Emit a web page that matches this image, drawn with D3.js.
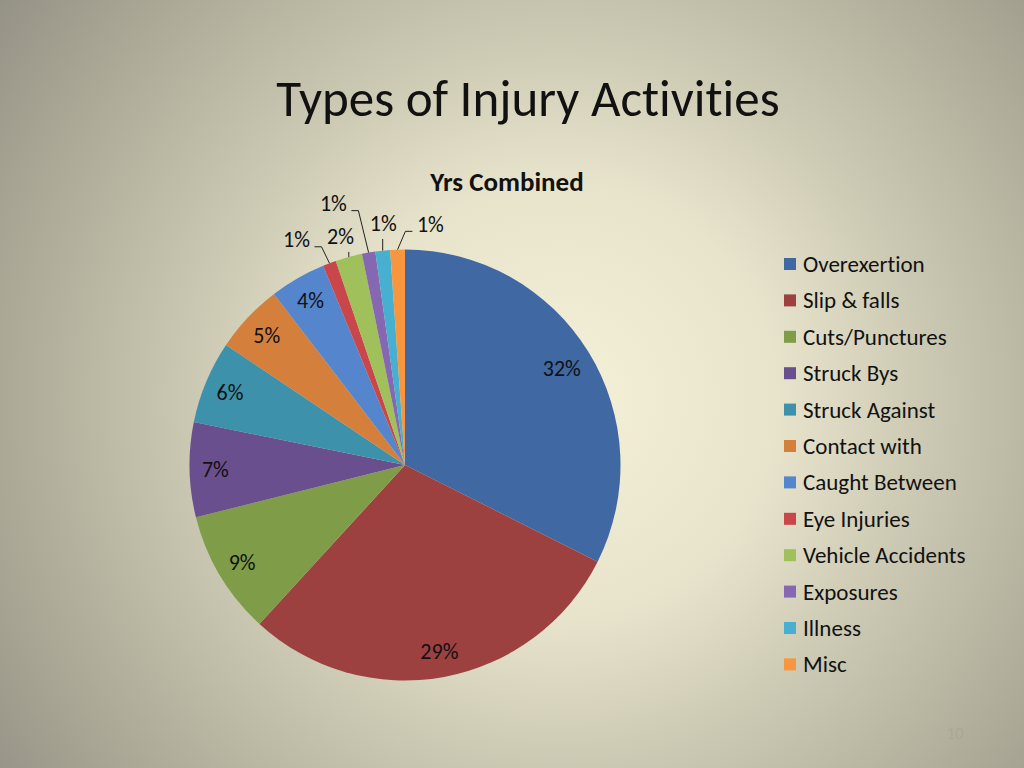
<!DOCTYPE html>
<html>
<head>
<meta charset="utf-8">
<script src="https://cdn.jsdelivr.net/npm/d3@7"></script>
<style>
  html, body { margin: 0; padding: 0; overflow: hidden; }
  svg { display: block; font-family: Carlito, Lato, "Open Sans", sans-serif; font-variant-ligatures: none; }
</style>
</head>
<body>
<div id="chart"></div>
<script>
// Data (percent of all injuries, years combined)
const categories = ["Overexertion", "Slip & falls", "Cuts/Punctures", "Struck Bys",
  "Struck Against", "Contact with", "Caught Between", "Eye Injuries",
  "Vehicle Accidents", "Exposures", "Illness", "Misc"];
const shares = [32.4, 29.4, 9.3, 7.1, 6.2, 5.2, 4.2, 1.0, 2.0, 1.0, 1.1, 1.1];
const colors = ["#4068a2", "#9d4140", "#7f9c48", "#6a4f8e", "#3d91aa", "#d57f3c",
  "#5585cc", "#c9474b", "#9fc05a", "#8667b2", "#47b0d0", "#f7963f"];

const W = 1024, H = 768;
const cx = 405, cy = 465, R = 215.5;

const svg = d3.select("#chart").append("svg")
  .attr("width", W).attr("height", H);

// slide background: light centre fading to grey edges
const defs = svg.append("defs");
const grad = defs.append("radialGradient").attr("id", "bg")
  .attr("gradientUnits", "userSpaceOnUse")
  .attr("cx", 560).attr("cy", 400).attr("r", 720);
grad.append("stop").attr("offset", "0%").attr("stop-color", "#f5f0d8");
grad.append("stop").attr("offset", "30%").attr("stop-color", "#e8e4cc");
grad.append("stop").attr("offset", "55%").attr("stop-color", "#c6c3ae");
grad.append("stop").attr("offset", "78%").attr("stop-color", "#aba896");
grad.append("stop").attr("offset", "100%").attr("stop-color", "#8f8d82");
svg.append("rect").attr("width", W).attr("height", H).attr("fill", "url(#bg)");

// Title
svg.append("text")
  .attr("x", 528).attr("y", 116)
  .attr("text-anchor", "middle")
  .style("font-size", "51px")
  .attr("fill", "#111")
  .text("Types of Injury Activities");

// Chart title
svg.append("text")
  .attr("x", 507).attr("y", 191)
  .attr("text-anchor", "middle")
  .style("font-size", "27px")
  .style("font-weight", "bold")
  .attr("fill", "#111")
  .text("Yrs Combined");

const data = categories.map((c, i) => ({name: c, value: shares[i], color: colors[i]}));
const total = d3.sum(shares);

const pie = d3.pie().sort(null).value(d => d.value);
const arcs = pie(data);
const arc = d3.arc().innerRadius(0).outerRadius(R);

const g = svg.append("g").attr("transform", `translate(${cx},${cy})`);

g.selectAll("path.slice")
  .data(arcs)
  .enter().append("path")
  .attr("class", "slice")
  .attr("d", arc)
  .attr("fill", d => d.data.color);

const pct = d => Math.round(d.value / total * 100) + "%";
const mid = d => (d.startAngle + d.endAngle) / 2;

// big slices: label inside (largest slice sits a bit further in)
const inner = d3.arc().innerRadius(R * 0.88).outerRadius(R * 0.88);
const innerBig = d3.arc().innerRadius(R * 0.855).outerRadius(R * 0.855);
const big = arcs.filter(d => d.value >= 3);
g.selectAll("text.in")
  .data(big)
  .enter().append("text")
  .attr("class", "in")
  .attr("transform", d => `translate(${(d.index === 0 ? innerBig : inner).centroid(d)})`)
  .attr("text-anchor", "middle")
  .attr("dy", "0.35em")
  .style("font-size", "22px")
  .attr("fill", "#111")
  .text(pct);

// small slices: callouts outside (angle nudge in degrees, radius) like Excel best fit
const callout = {
  "Eye Injuries": [-5.2, 250],
  "Vehicle Accidents": [-0.6, 238],
  "Exposures": [-5.6, 271],
  "Illness": [0.8, 243],
  "Misc": [8, 242]
};
const small = arcs.filter(d => d.value < 3);
small.forEach(d => {
  const [da, rr] = callout[d.data.name];
  const a = mid(d) + da * Math.PI / 180;
  const lx = Math.sin(a) * rr, ly = -Math.cos(a) * rr;
  const ex = Math.sin(mid(d)) * R, ey = -Math.cos(mid(d)) * R;
  g.append("text")
    .attr("x", lx).attr("y", ly)
    .attr("text-anchor", "middle")
    .attr("dy", "0.35em")
    .style("font-size", "22px")
    .attr("fill", "#111")
    .text(pct(d));
  const half = 17;
  let pts = null;
  if (ex > lx + half + 4) {
    const sx = lx + half + 1, sy = ly + 7;
    pts = [[sx, sy], [sx + 7, sy], [ex, ey]];
  } else if (ex < lx - half - 4) {
    const sx = lx - half - 1, sy = ly + 7;
    pts = [[sx, sy], [sx - 7, sy], [ex, ey]];
  } else if (ey - (ly + 12) > 6) {
    pts = [[ex, ly + 16], [ex, ey]];
  }
  if (pts) {
    g.append("path")
      .attr("d", d3.line()(pts))
      .attr("fill", "none")
      .attr("stroke", "#222")
      .attr("stroke-width", 1);
  }
});

// Legend
const legend = svg.append("g").attr("transform", "translate(784,264)");
const row = legend.selectAll("g")
  .data(data)
  .enter().append("g")
  .attr("transform", (d, i) => `translate(0,${i * 36.4})`);
row.append("rect")
  .attr("x", 0).attr("y", -6).attr("width", 12).attr("height", 12)
  .attr("fill", d => d.color);
row.append("text")
  .attr("x", 19).attr("dy", "0.35em")
  .style("font-size", "23px")
  .attr("fill", "#111")
  .text(d => d.name);

// slide number
svg.append("text")
  .attr("x", 955).attr("y", 739)
  .attr("text-anchor", "middle")
  .style("font-size", "17px")
  .attr("fill", "#a9a899")
  .text("10");
</script>
</body>
</html>
